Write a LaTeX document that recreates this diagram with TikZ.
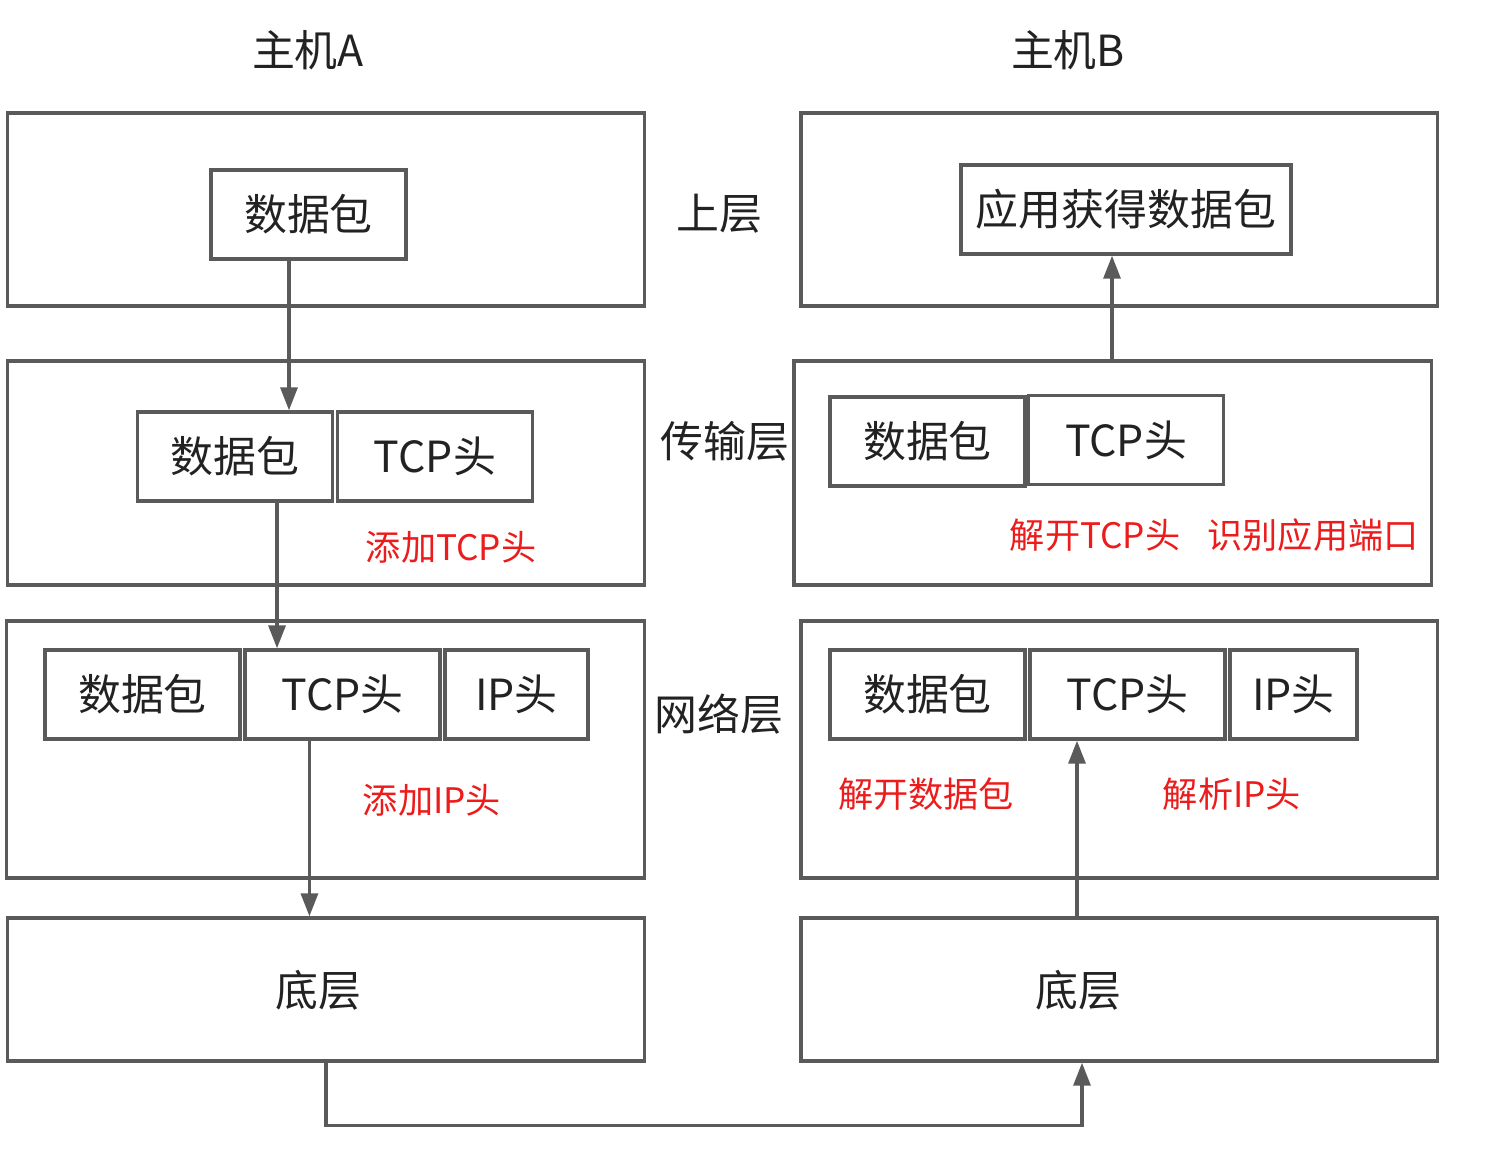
\documentclass[tikz,border=0pt]{standalone}
\usepackage{fontspec}
\setmainfont{Noto Sans CJK SC}
\usetikzlibrary{arrows.meta}
\usetikzlibrary{positioning}
\definecolor{line_gray}{RGB}{90,90,90}
\definecolor{text_black}{RGB}{34,34,34}
\definecolor{note_red}{RGB}{236,28,28}
\tikzstyle{layer_box} = [
    rectangle, 
    draw=line_gray, 
    line width=0.95pt, 
    inner sep=0pt
]
\tikzstyle{field_box} = [
    rectangle, 
    draw=line_gray, 
    line width=0.95pt, 
    text=text_black, 
    font=\fontsize{12.2}{14}\selectfont, 
    minimum width=1.95cm, 
    minimum height=0.89cm, 
    inner sep=0pt
]
\tikzstyle{note} = [
    text=note_red, 
    font=\fontsize{10}{12}\selectfont, 
    inner sep=0pt
]
\tikzstyle{title} = [
    text=text_black, 
    font=\fontsize{12.2}{14}\selectfont, 
    inner sep=0pt
]
\tikzstyle{flow} = [
    draw=line_gray, 
    line width=0.95pt, 
    -{Triangle[length=6.5pt,width=4.8pt]}
]

\begin{document}
\begin{tikzpicture}[x=0.01cm, y=-0.01cm]
\useasboundingbox (0,0) rectangle (1486,1153);

% hosts and layers
\node [title] (host_a) at (308,50) {主机A};
\node [title] (host_b) at (1068,50) {主机B};
\node [title] (lbl_upper) at (719,214) {上层};
\node [title] (lbl_trans) at (725,441) {传输层};
\node [title] (lbl_net) at (719,714) {网络层};

% host A
\node [layer_box, minimum width=6.36cm, minimum height=1.93cm] (a_up) at (326,209.5) {};
\node [layer_box, minimum width=6.36cm, minimum height=2.24cm] (a_tr) at (326,473) {};
\node [layer_box, minimum width=6.37cm, minimum height=2.57cm] (a_net) at (325.5,749.5) {};
\node [layer_box, minimum width=6.36cm, minimum height=1.43cm] (a_bot) at (326,989.5) {};
\node [title] (a_bot_txt) at (318,990) {底层};

\node [field_box] (a_up_pkt) at (308.5,214.5) {数据包};
\node [field_box] (a_tr_pkt) at (235,456.5) {数据包};
\node [field_box, right=0.015cm of a_tr_pkt] (a_tr_tcp) {TCP头};
\node [field_box] (a_net_pkt) at (142.5,694.5) {数据包};
\node [field_box, right=0.015cm of a_net_pkt] (a_net_tcp) {TCP头};
\node [field_box, minimum width=1.43cm, right=0.015cm of a_net_tcp] (a_net_ip) {IP头};

\node [note] (a_tr_note) at (451,547) {添加TCP头};
\node [note] (a_net_note) at (432,800) {添加IP头};

% host B
\node [layer_box, minimum width=6.36cm, minimum height=1.93cm] (b_up) at (1119,209.5) {};
\node [layer_box, minimum width=6.37cm, minimum height=2.24cm] (b_tr) at (1112.5,473) {};
\node [layer_box, minimum width=6.36cm, minimum height=2.57cm] (b_net) at (1119,749.5) {};
\node [layer_box, minimum width=6.36cm, minimum height=1.43cm] (b_bot) at (1119,989.5) {};
\node [title] (b_bot_txt) at (1078,990) {底层};

\node [field_box, minimum width=3.30cm] (b_up_app) at (1126,209.5) {应用获得数据包};
\node [field_box] (b_tr_pkt) at (927.5,441.5) {数据包};
\node [field_box] (b_tr_tcp) at (1126,440) {TCP头};
\node [field_box] (b_net_pkt) at (927.5,694.5) {数据包};
\node [field_box, right=0.015cm of b_net_pkt] (b_net_tcp) {TCP头};
\node [field_box, minimum width=1.27cm, right=0.015cm of b_net_tcp] (b_net_ip) {IP头};

\node [note] (b_tr_note1) at (1095,535) {解开TCP头};
\node [note] (b_tr_note2) at (1313,535) {识别应用端口};
\node [note] (b_net_note1) at (926,794) {解开数据包};
\node [note] (b_net_note2) at (1232,794) {解析IP头};

% flow down through host A
\coordinate (a_out1) at ([xshift=-0.195cm]a_up_pkt.south);
\coordinate (a_out2) at ([xshift=0.42cm]a_tr_pkt.south);
\coordinate (a_out3) at ([xshift=-0.33cm]a_net_tcp.south);
\draw [flow] (a_out1) -- (a_out1 |- a_tr_pkt.north);
\draw [flow] (a_out2) -- (a_out2 |- a_net_pkt.north);
\draw [flow] (a_out3) -- (a_out3 |- a_bot.north);

% link between hosts
\coordinate (b_in) at ([xshift=-0.37cm]b_bot.south);
\draw [flow] (a_bot.south) -- ++(0,63) -| (b_in);

% flow up through host B
\coordinate (b_out1) at ([xshift=-0.42cm]b_bot.north);
\coordinate (b_out2) at ([xshift=-0.005cm]b_tr.north);
\draw [flow] (b_out1) -- (b_out1 |- b_net_tcp.south);
\draw [flow] (b_out2) -- (b_out2 |- b_up_app.south);
\end{tikzpicture}
\end{document}
